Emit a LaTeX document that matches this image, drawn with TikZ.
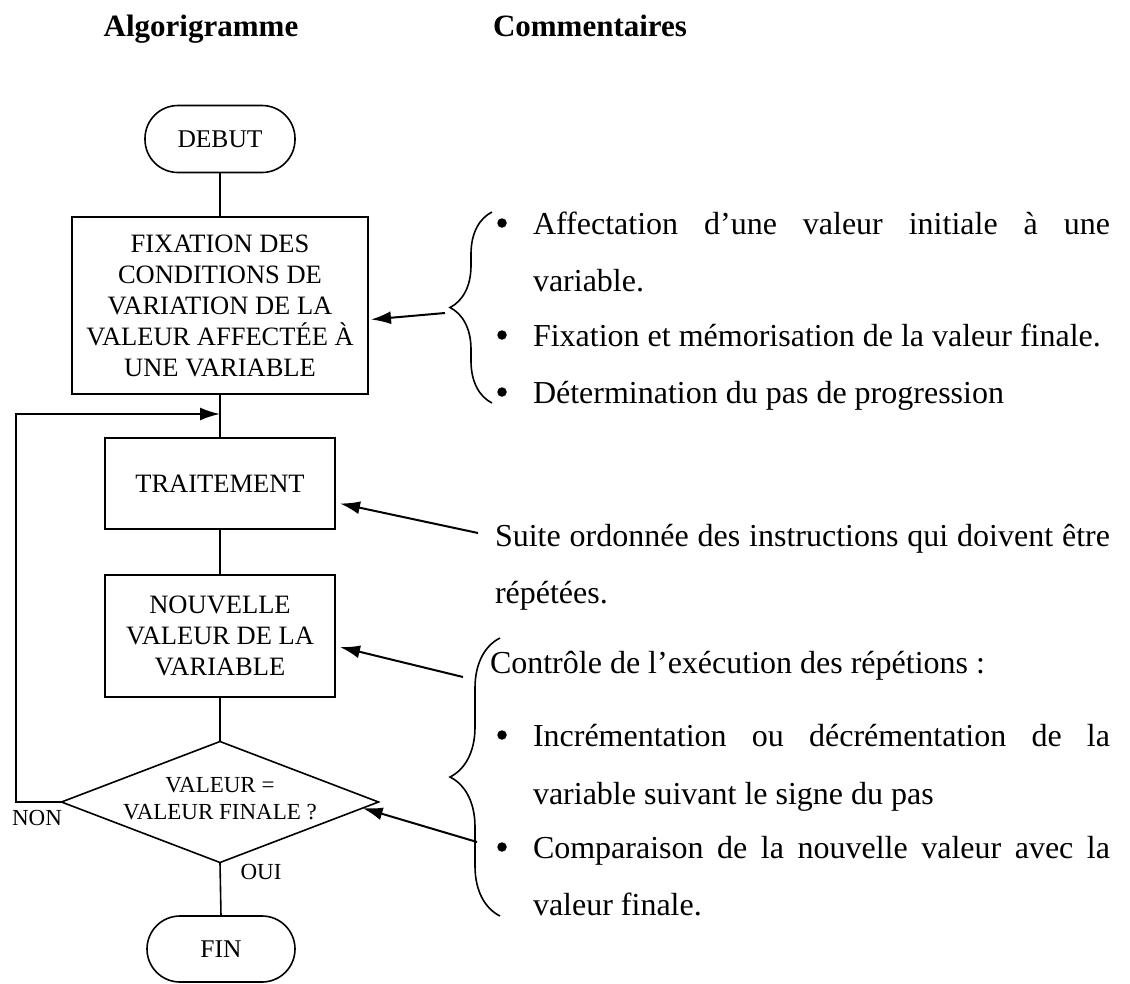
\documentclass[tikz,border=0pt]{standalone}
\usepackage{fontspec}
\setmainfont{Liberation Serif}
\usetikzlibrary{arrows.meta,shapes.geometric,decorations.pathreplacing,calc}

\newcommand{\bodytext}{\fontsize{32}{57}\selectfont}
\newcommand{\headtext}{\fontsize{31}{36}\selectfont\bfseries}

\begin{document}
\begin{tikzpicture}[x=1pt,y=-1pt,
  every node/.style={inner sep=0pt, outer sep=0pt},
  shapeline/.style={draw, line width=1.6pt},
  terminal/.style={shapeline, rectangle, rounded corners=33pt,
    minimum width=150pt, minimum height=67pt, font=\fontsize{25.5}{30}\selectfont},
  procbox/.style={shapeline, rectangle, align=center,
    font=\fontsize{26.5}{31}\selectfont},
  decision/.style={shapeline, diamond, minimum width=317pt, minimum height=121pt},
  flow/.style={line width=1.6pt},
  pointer/.style={line width=2pt, -{Latex[length=20pt,width=13pt]}},
  curly/.style={line width=1.6pt, decorate, decoration={brace, amplitude=#1}},
  small/.style={font=\fontsize{23}{27}\selectfont},
  comment/.style={anchor=base west, font=\bodytext},
  dot/.style={circle, fill, minimum size=9.5pt}]

\useasboundingbox (0,0) rectangle (1130,983);

% column headings
\node[anchor=base, font=\headtext] (h1) at (201,36) {Algorigramme};
\node[anchor=base, font=\headtext] (h2) at (590,36) {Commentaires};

% flowchart
\node[terminal] (debut) at (220,139) {DEBUT};
\node[procbox, minimum width=296pt, minimum height=177pt] (fix) at (220,305.5)
  {FIXATION DES\\CONDITIONS DE\\VARIATION DE LA\\VALEUR AFFECTÉE À\\UNE VARIABLE};
\node[procbox, minimum width=230pt, minimum height=91pt] (trait) at (220,483.5) {TRAITEMENT};
\node[procbox, minimum width=230pt, minimum height=122pt] (nouv) at (220,636)
  {NOUVELLE\\VALEUR DE LA\\VARIABLE};
\node[decision] (dia) at (220,802) {};
\node[small, align=center] (diatext) at (220,799) {VALEUR =\\VALEUR FINALE ?};
\node[terminal, minimum width=148pt, minimum height=66pt] (fin) at (221,949) {FIN};

\node[small] (non) at (37,818) {NON};
\node[small] (oui) at (261,872) {OUI};

\draw[flow] (debut.south) -- (fix.north);
\draw[flow] (fix.south) -- (trait.north);
\draw[flow] (trait.south) -- (nouv.north);
\draw[flow] (nouv.south) -- (dia.north);
\draw[flow] (dia.south) -- (fin.north);

% loop back when the final value is not reached
\coordinate (join) at (220,414);
\draw[pointer] (dia.west) -- ++(-46,0) |- (join);

% comment braces
\draw[curly=42pt] (492,403) -- (492,212);
\draw[curly=50pt] (500,916) -- (500,638);

% comments: initial conditions
\node[dot] (b1) at (502,223) {};
\node[comment] (c1) at (533,234) {\makebox[577pt][s]{Affectation d’une valeur initiale à une}};
\node[comment] (c1b) at (533,291) {variable.};
\node[dot] (b2) at (502,335) {};
\node[comment] (c2) at (533,346) {Fixation et mémorisation de la valeur finale.};
\node[dot] (b3) at (502,392) {};
\node[comment] (c3) at (533,403) {Détermination du pas de progression};

% comments: processing
\node[comment] (c4) at (495,546) {\makebox[615pt][s]{Suite ordonnée des instructions qui doivent être}};
\node[comment] (c4b) at (495,603) {répétées.};

% comments: loop control
\node[comment] (c5) at (490,673) {Contrôle de l’exécution des répétions :};
\node[dot] (b4) at (502,735) {};
\node[comment] (c6) at (533,746) {\makebox[577pt][s]{Incrémentation ou décrémentation de la}};
\node[comment] (c6b) at (533,804) {variable suivant le signe du pas};
\node[dot] (b5) at (502,847) {};
\node[comment] (c7) at (533,858) {\makebox[577pt][s]{Comparaison de la nouvelle valeur avec la}};
\node[comment] (c7b) at (533,915) {valeur finale.};

% pointers from comments to the flowchart
\coordinate (p1) at (445,313);
\coordinate (p2) at (478,533);
\coordinate (p3) at (463,677);
\coordinate (p4) at (477,842);
\draw[pointer] (p1) -- ($(fix.east)+(3,14)$);
\draw[pointer] (p2) -- ($(trait.east)+(5,20)$);
\draw[pointer] (p3) -- ($(nouv.east)+(5,11)$);
\draw[pointer] (p4) -- ($(dia.east)!0.1!(dia.south)$);

\end{tikzpicture}
\end{document}
